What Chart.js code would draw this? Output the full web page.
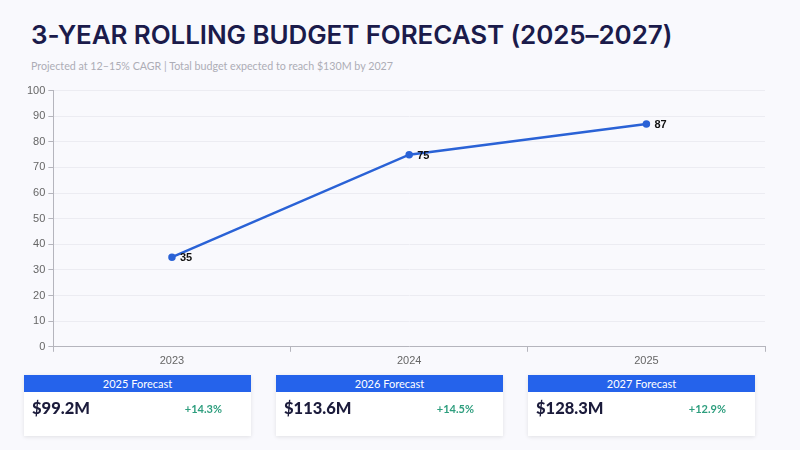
<!DOCTYPE html>
<html>
<head>
<meta charset="utf-8">
<script src="https://cdn.jsdelivr.net/npm/chart.js@4.4.1/dist/chart.umd.min.js"></script>
<style>
  html, body { margin: 0; padding: 0; }
  body { width: 800px; height: 450px; background: #f9f9fd; position: relative; overflow: hidden; font-family: Lato, "Open Sans", sans-serif; }
  #title { position: absolute; left: 31px; top: 19px; font-family: Inter, sans-serif; font-weight: 600; font-size: 26px; color: #1b1b4b; letter-spacing: -0.1px; white-space: nowrap; }
  #subtitle { position: absolute; left: 31px; top: 59px; font-family: Lato, sans-serif; font-size: 10.7px; color: #adadb6; white-space: nowrap; }
  #chartWrap { position: absolute; left: 0; top: 81px; width: 780px; height: 290px; }
  .card { position: absolute; top: 375px; width: 227px; height: 61px; background: #fff; box-shadow: 0 1px 4px rgba(0,0,0,0.10); }
  .card .hd { height: 17px; background: #2563eb; color: #fff; font-size: 11px; text-align: center; line-height: 17px; }
  .card .val { position: absolute; left: 8px; top: 23px; font-size: 16.5px; font-weight: 900; color: #1b1b3b; }
  .card .pct { position: absolute; right: 29px; top: 27px; font-size: 11px; font-weight: 700; color: #2e9e7e; }
</style>
</head>
<body>
<div id="title">3-YEAR ROLLING BUDGET FORECAST (2025–2027)</div>
<div id="subtitle">Projected at 12–15% CAGR | Total budget expected to reach $130M by 2027</div>
<div id="chartWrap"><canvas id="c"></canvas></div>
<div id="cards"></div>
<script>
const categories = ["2023", "2024", "2025"];
const budgetValues = [35, 75, 87];
const yTicks = [0, 10, 20, 30, 40, 50, 60, 70, 80, 90, 100];
const cardTitles = ["2025 Forecast", "2026 Forecast", "2027 Forecast"];
const cardValues = ["$99.2M", "$113.6M", "$128.3M"];
const cardGrowth = ["+14.3%", "+14.5%", "+12.9%"];

const cardLefts = [24, 276, 528];
const cardsEl = document.getElementById('cards');
cardTitles.forEach((t, i) => {
  const d = document.createElement('div');
  d.className = 'card';
  d.style.left = cardLefts[i] + 'px';
  d.innerHTML = '<div class="hd"></div><div class="val"></div><div class="pct"></div>';
  d.querySelector('.hd').textContent = t;
  d.querySelector('.val').textContent = cardValues[i];
  d.querySelector('.pct').textContent = cardGrowth[i];
  cardsEl.appendChild(d);
});

const pointLabels = {
  id: 'pointLabels',
  afterDatasetsDraw(chart) {
    const ctx = chart.ctx;
    const meta = chart.getDatasetMeta(0);
    ctx.save();
    ctx.font = 'bold 11px Arial, "Liberation Sans", sans-serif';
    ctx.fillStyle = '#111';
    ctx.textBaseline = 'middle';
    ctx.textAlign = 'left';
    meta.data.forEach((p, i) => {
      ctx.fillText(String(chart.data.datasets[0].data[i]), p.x + 8, p.y + 1);
    });
    ctx.restore();
  }
};

new Chart(document.getElementById('c'), {
  type: 'line',
  data: {
    labels: categories,
    datasets: [{
      data: budgetValues,
      borderColor: '#2a62d6',
      backgroundColor: '#2a62d6',
      borderWidth: 2.5,
      pointRadius: 2.5,
      pointHoverRadius: 2.5,
      tension: 0,
      fill: false
    }]
  },
  options: {
    responsive: true,
    maintainAspectRatio: false,
    animation: false,
    layout: { padding: { left: 24, right: 15, top: 5, bottom: 0 } },
    plugins: { legend: { display: false }, tooltip: { enabled: false } },
    scales: {
      x: {
        offset: true,
        grid: { display: true, drawOnChartArea: false, drawTicks: true, tickLength: 5, color: '#b5b5bd', offset: true },
        border: { color: '#b5b5bd' },
        ticks: { color: '#666', font: { family: 'Arial, "Liberation Sans", sans-serif', size: 11 }, padding: 3 }
      },
      y: {
        min: 0,
        max: 100,
        afterBuildTicks(axis) { axis.ticks = yTicks.map(v => ({ value: v })); },
        grid: { color: '#ececf2', tickColor: '#b5b5bd', tickLength: 5 },
        border: { color: '#b5b5bd' },
        ticks: { color: '#666', font: { family: 'Arial, "Liberation Sans", sans-serif', size: 11 }, padding: 3 }
      }
    }
  },
  plugins: [pointLabels]
});
</script>
</body>
</html>
